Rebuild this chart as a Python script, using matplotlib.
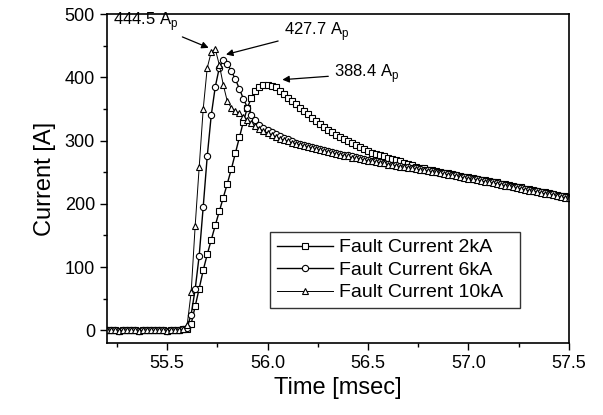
import numpy as np
import matplotlib
matplotlib.use("Agg")
import matplotlib.pyplot as plt
from matplotlib.ticker import MultipleLocator

plt.rcParams['font.family'] = ['Liberation Sans', 'DejaVu Sans']
plt.rcParams['mathtext.fontset'] = 'custom'
plt.rcParams['mathtext.rm'] = 'Liberation Sans'

# sampling grid: 55.20 .. 57.50 msec, 0.02 msec step
t_start, t_step, n_pts = 55.20, 0.02, 116
time_ms = np.round(t_start + t_step * np.arange(n_pts), 2)

# flat part before the fault (55.20 .. 55.58)
baseline = [0, 1, 0, -1, 0, 1, 0, 0, -1, 0, 1, 0, 0, 1, 0, -1, 0, 1, 1, 2]

cur_2ka = baseline + [
    2, 10, 38, 66, 95, 120, 143, 166, 188, 210,
    232, 255, 280, 305, 330, 352, 368, 378, 385, 388,
    388.4, 387, 384, 379, 374, 368, 363, 358, 352, 347,
    342, 336, 331, 326, 321, 317, 313, 309, 306, 302,
    299, 296, 293, 290, 287, 284, 281, 279, 277, 275,
    273, 271, 269, 267, 265, 263, 261, 259, 257, 256,
    254, 253, 252, 250, 249, 248, 247, 246, 244, 243,
    242, 241, 240, 238, 237, 236, 235, 234, 232, 231,
    230, 228, 227, 226, 224, 223, 222, 221, 219, 218,
    217, 216, 214, 213, 212, 211]

cur_6ka = baseline + [
    4, 25, 65, 118, 195, 275, 340, 385, 415, 427.7,
    421, 410, 397, 382, 366, 352, 341, 332, 325, 320,
    316, 313, 310, 307, 304, 302, 299, 297, 295, 293,
    292, 290, 288, 287, 285, 284, 282, 281, 279, 278,
    277, 275, 274, 273, 271, 270, 268, 267, 266, 265,
    263, 262, 261, 260, 259, 258, 257, 256, 255, 254,
    253, 252, 251, 249, 248, 247, 246, 245, 243, 242,
    241, 240, 239, 237, 236, 235, 234, 233, 231, 230,
    229, 227, 226, 225, 223, 222, 221, 220, 218, 217,
    216, 215, 213, 212, 211, 210]

cur_10ka = baseline + [
    8, 60, 165, 258, 350, 415, 440, 444.5, 420, 388,
    362, 352, 347, 343, 338, 333, 328, 323, 319, 315,
    312, 309, 306, 303, 301, 299, 297, 295, 293, 291,
    290, 288, 286, 285, 283, 282, 280, 279, 277, 276,
    275, 273, 272, 271, 269, 268, 267, 266, 265, 264,
    262, 261, 260, 259, 258, 257, 256, 255, 254, 253,
    252, 251, 250, 248, 247, 246, 245, 244, 242, 241,
    240, 239, 238, 236, 235, 234, 233, 232, 230, 229,
    228, 226, 225, 224, 222, 221, 220, 219, 217, 216,
    215, 214, 212, 211, 210, 209]

labels = ['Fault Current 2kA', 'Fault Current 6kA', 'Fault Current 10kA']
peaks = [388.4, 427.7, 444.5]

fig = plt.figure(figsize=(6.03, 4.15), dpi=100)
ax = fig.add_axes([0.177, 0.1735, 0.7666, 0.7925])

mk = dict(markerfacecolor='white', markeredgecolor='black', markersize=4.5,
          markeredgewidth=0.8, color='black')
ax.plot(time_ms, cur_2ka, marker='s', lw=1.0, label=labels[0], **mk)
ax.plot(time_ms, cur_6ka, marker='o', lw=1.0, label=labels[1], **mk)
ax.plot(time_ms, cur_10ka, marker='^', lw=0.7, label=labels[2], **mk)

ax.set_xlim(55.2, 57.5)
ax.set_ylim(-20, 500)
ax.xaxis.set_major_locator(MultipleLocator(0.5))
ax.xaxis.set_minor_locator(MultipleLocator(0.25))
ax.yaxis.set_major_locator(MultipleLocator(100))
ax.yaxis.set_minor_locator(MultipleLocator(50))
ax.xaxis.set_major_formatter(plt.FormatStrFormatter('%.1f'))
ax.tick_params(which='both', direction='out', top=False, right=False,
               labelsize=13, width=1)
ax.tick_params(which='major', length=5)
ax.tick_params(which='minor', length=3)
for s in ax.spines.values():
    s.set_linewidth(1.2)

ax.set_xlabel('Time [msec]', fontsize=17)
ax.set_ylabel('Current [A]', fontsize=17, labelpad=6)

arr = dict(arrowstyle='-|>', color='black', lw=0.9, mutation_scale=10)
ax.annotate('%.1f A$_\\mathregular{p}$' % peaks[2], xy=(55.72, 445),
            xytext=(55.23, 470), fontsize=12, va='bottom', arrowprops=arr)
ax.annotate('%.1f A$_\\mathregular{p}$' % peaks[1], xy=(55.78, 435),
            xytext=(56.08, 455), fontsize=12, va='bottom', arrowprops=arr)
ax.annotate('%.1f A$_\\mathregular{p}$' % peaks[0], xy=(56.06, 396),
            xytext=(56.33, 388), fontsize=12, va='bottom', arrowprops=arr)

leg = ax.legend(loc='lower left', bbox_to_anchor=(0.353, 0.106, 0.541, 0.228),
                mode='expand', borderaxespad=0, fontsize=14, frameon=True,
                fancybox=False, handlelength=2.9, borderpad=0.35,
                labelspacing=0.25, handletextpad=0.3)
leg.get_frame().set_edgecolor('black')
leg.get_frame().set_linewidth(1.0)

fig.savefig('out.png', dpi=100)
